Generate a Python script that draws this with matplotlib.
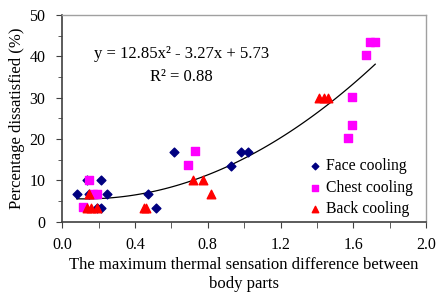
import numpy as np
import matplotlib
matplotlib.use("Agg")
import matplotlib.pyplot as plt
from matplotlib.ticker import MultipleLocator

plt.rcParams['font.family'] = ['Liberation Serif', 'DejaVu Serif']

# data
face_x = [0.08, 0.136, 0.145, 0.213, 0.216, 0.249, 0.473, 0.516, 0.615, 0.927, 0.982, 1.022, 0.19]
face_y = [6.7, 10.0, 6.7, 10.0, 3.4, 6.7, 6.7, 3.4, 16.8, 13.5, 16.8, 16.8, 3.4]

chest_x = [0.112, 0.15, 0.167, 0.19, 0.694, 0.729, 1.571, 1.59, 1.59, 1.668, 1.69, 1.72]
chest_y = [3.5, 10.1, 6.7, 6.7, 13.7, 17.0, 20.3, 23.5, 30.1, 40.3, 43.6, 43.6]

back_x = [0.148, 0.139, 0.157, 0.19, 0.45, 0.46, 0.721, 0.776, 0.82, 1.412, 1.44, 1.463]
back_y = [6.7, 3.3, 3.3, 3.3, 3.3, 3.3, 10.1, 10.1, 6.7, 30.0, 30.0, 30.0]

# trendline shown on the chart
coef = [12.85, -3.27, 5.73]
fit_range = [0.08, 1.72]

fig = plt.figure(figsize=(4.36, 2.96), dpi=100)
ax = fig.add_axes([0.1425, 0.251, 0.835, 0.698])

ax.scatter(face_x, face_y, marker='D', s=20, color='#000080', label='Face cooling', zorder=3)
ax.scatter(chest_x, chest_y, marker='s', s=28, color='#FF00FF', label='Chest cooling', zorder=3)
ax.scatter(back_x, back_y, marker='^', s=38, color='#FF0000', label='Back cooling', zorder=3)

xs = np.linspace(fit_range[0], fit_range[1], 100)
ax.plot(xs, np.polyval(coef, xs), color='black', lw=0.9, zorder=2)

ax.text(0.654, 40.5, 'y = 12.85x² - 3.27x + 5.73', ha='center', va='center', fontsize=12)
ax.text(0.654, 35.0, 'R² = 0.88', ha='center', va='center', fontsize=12)

ax.set_xlim(0, 2.0)
ax.set_ylim(0, 50)
ax.xaxis.set_major_locator(MultipleLocator(0.4))
ax.xaxis.set_minor_locator(MultipleLocator(0.2))
ax.yaxis.set_major_locator(MultipleLocator(10))
ax.yaxis.set_minor_locator(MultipleLocator(5))
ax.xaxis.set_major_formatter(plt.FuncFormatter(lambda v, p: f"{v:.1f}"))
ax.tick_params(which='both', direction='out', labelsize=11.5, color='#404040', length=4)
ax.tick_params(axis='x', which='major', pad=7)
ax.tick_params(axis='y', which='major', pad=8)
ax.tick_params(axis='y', which='minor', length=3)

for s in ['left', 'bottom']:
    ax.spines[s].set_color('#404040')
    ax.spines[s].set_linewidth(1.2)
for s in ['top', 'right']:
    ax.spines[s].set_color('#a0a0a0')
    ax.spines[s].set_linewidth(1.0)

ax.set_xlabel('The maximum thermal sensation difference between\nbody parts', fontsize=12,
              labelpad=3, linespacing=1.25)
ax.set_ylabel('Percentage dissatisfied (%)', fontsize=12, labelpad=3)

ax.legend(loc='upper left', bbox_to_anchor=(0.643, 0.36), frameon=False, fontsize=11.3,
          handletextpad=0.2, handlelength=1.0, labelspacing=0.35, borderpad=0.2,
          scatterpoints=1, markerscale=0.75)

fig.savefig('out.png', dpi=100)
